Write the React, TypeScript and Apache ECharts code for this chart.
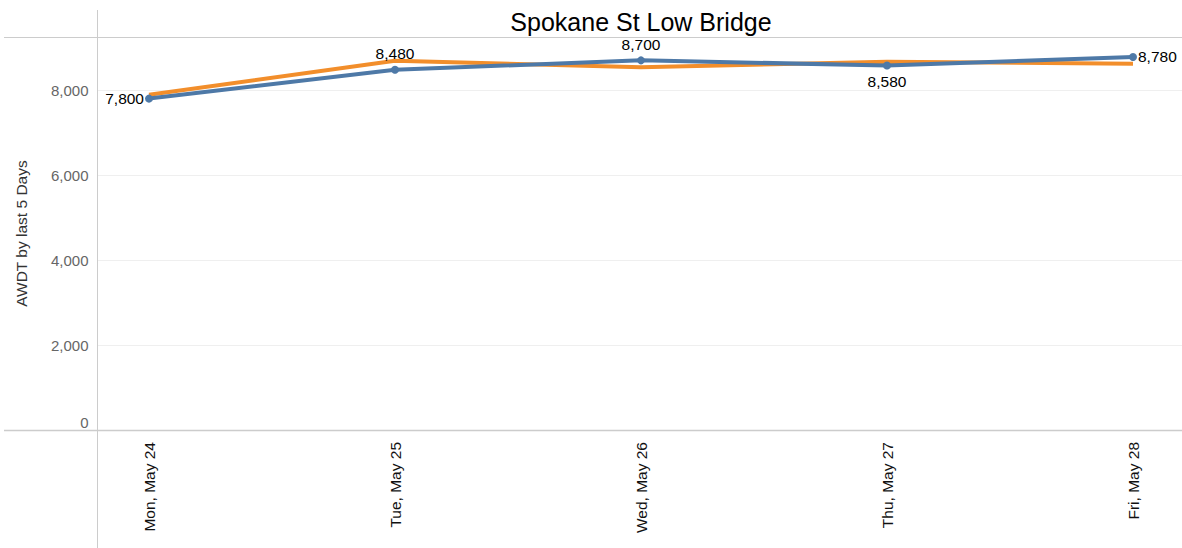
import React, { useEffect, useRef } from "react";
import * as echarts from "echarts";

const title = "Spokane St Low Bridge";
const yAxisTitle = "AWDT by last 5 Days";
const categories = ["Mon, May 24", "Tue, May 25", "Wed, May 26", "Thu, May 27", "Fri, May 28"];
const blueValues = [7800, 8480, 8700, 8580, 8780];
const orangeValues = [7890, 8690, 8540, 8670, 8620];
const blueLabelPositions = ["left", "top", "top", "bottom", "right"];
const yTicks = [0, 2000, 4000, 6000, 8000];
const yMax = 9250;

const BLUE = "#4e79a7";
const ORANGE = "#f28e2b";
const FONT = "Liberation Sans, Arial, sans-serif";

export default function App() {
  const ref = useRef<HTMLDivElement>(null);
  useEffect(() => {
    if (!ref.current) return;
    const chart = echarts.init(ref.current, undefined, { renderer: "svg" });
    chart.setOption({
      animation: false,
      backgroundColor: "#ffffff",
      textStyle: { fontFamily: FONT },
      title: {
        text: title,
        left: 641,
        top: 9,
        padding: 0,
        textAlign: "center",
        textStyle: { fontFamily: FONT, fontSize: 25, fontWeight: "normal", color: "#000" },
      },
      grid: [
        { left: 97.5, right: 0, top: 37, bottom: 118, containLabel: false },
        { left: 149, right: 49, top: 37, bottom: 118, containLabel: false },
      ],
      xAxis: [
        { type: "value", gridIndex: 0, show: false, min: 0, max: 1 },
        {
          type: "category",
          gridIndex: 1,
          data: categories,
          boundaryGap: false,
          axisLine: { show: false },
          axisTick: { show: false },
          axisLabel: {
            rotate: 90,
            margin: 12,
            fontSize: 15.5,
            color: "#111",
            fontFamily: FONT,
          },
        },
      ],
      yAxis: [
        {
          type: "value",
          gridIndex: 0,
          min: 0,
          max: yMax,
          interval: 2000,
          name: yAxisTitle,
          nameLocation: "middle",
          nameGap: 68,
          nameTextStyle: { fontSize: 15.5, color: "#333", fontFamily: FONT },
          axisLine: { show: false },
          axisTick: { show: false },
          splitLine: { lineStyle: { color: "#efefef", width: 1 } },
          axisLabel: {
            margin: 9,
            fontSize: 15,
            color: "#666",
            fontFamily: FONT,
            verticalAlignMinLabel: "bottom",
            showMaxLabel: false,
            formatter: (v: number) =>
              yTicks.includes(v) ? v.toLocaleString("en-US") : "",
          },
        },
        {
          type: "value",
          gridIndex: 1,
          min: 0,
          max: yMax,
          show: false,
          splitLine: { show: false },
        },
      ],
      graphic: [
        { type: "line", shape: { x1: 97.5, y1: 10, x2: 97.5, y2: 548 }, style: { stroke: "#cccccc", lineWidth: 1 }, z: 1 },
        { type: "line", shape: { x1: 4, y1: 37.5, x2: 1182, y2: 37.5 }, style: { stroke: "#cccccc", lineWidth: 1 }, z: 1 },
        { type: "line", shape: { x1: 4, y1: 430.5, x2: 1182, y2: 430.5 }, style: { stroke: "#cccccc", lineWidth: 1.5 }, z: 1 },
      ],
      series: [
        {
          type: "line",
          xAxisIndex: 1,
          yAxisIndex: 1,
          data: blueValues.map((v, i) => ({
            value: v,
            label: {
              position: blueLabelPositions[i],
              distance: blueLabelPositions[i] === "left" || blueLabelPositions[i] === "right" ? 1 : 4,
            },
          })),
          symbol: "circle",
          symbolSize: 8,
          showAllSymbol: true,
          lineStyle: { color: BLUE, width: 4 },
          itemStyle: { color: BLUE },
          label: {
            show: true,
            fontSize: 15.5,
            color: "#000",
            fontFamily: FONT,
            distance: 4,
            formatter: (p: any) => Number(p.value).toLocaleString("en-US"),
          },
          z: 3,
        },
        {
          type: "line",
          xAxisIndex: 1,
          yAxisIndex: 1,
          data: orangeValues,
          symbol: "none",
          lineStyle: { color: ORANGE, width: 4 },
          itemStyle: { color: ORANGE },
          z: 2,
        },
      ],
    });
    return () => chart.dispose();
  }, []);
  return (
    <div
      ref={ref}
      style={{ position: "absolute", left: 0, top: 0, width: 1182, height: 548 }}
    />
  );
}
